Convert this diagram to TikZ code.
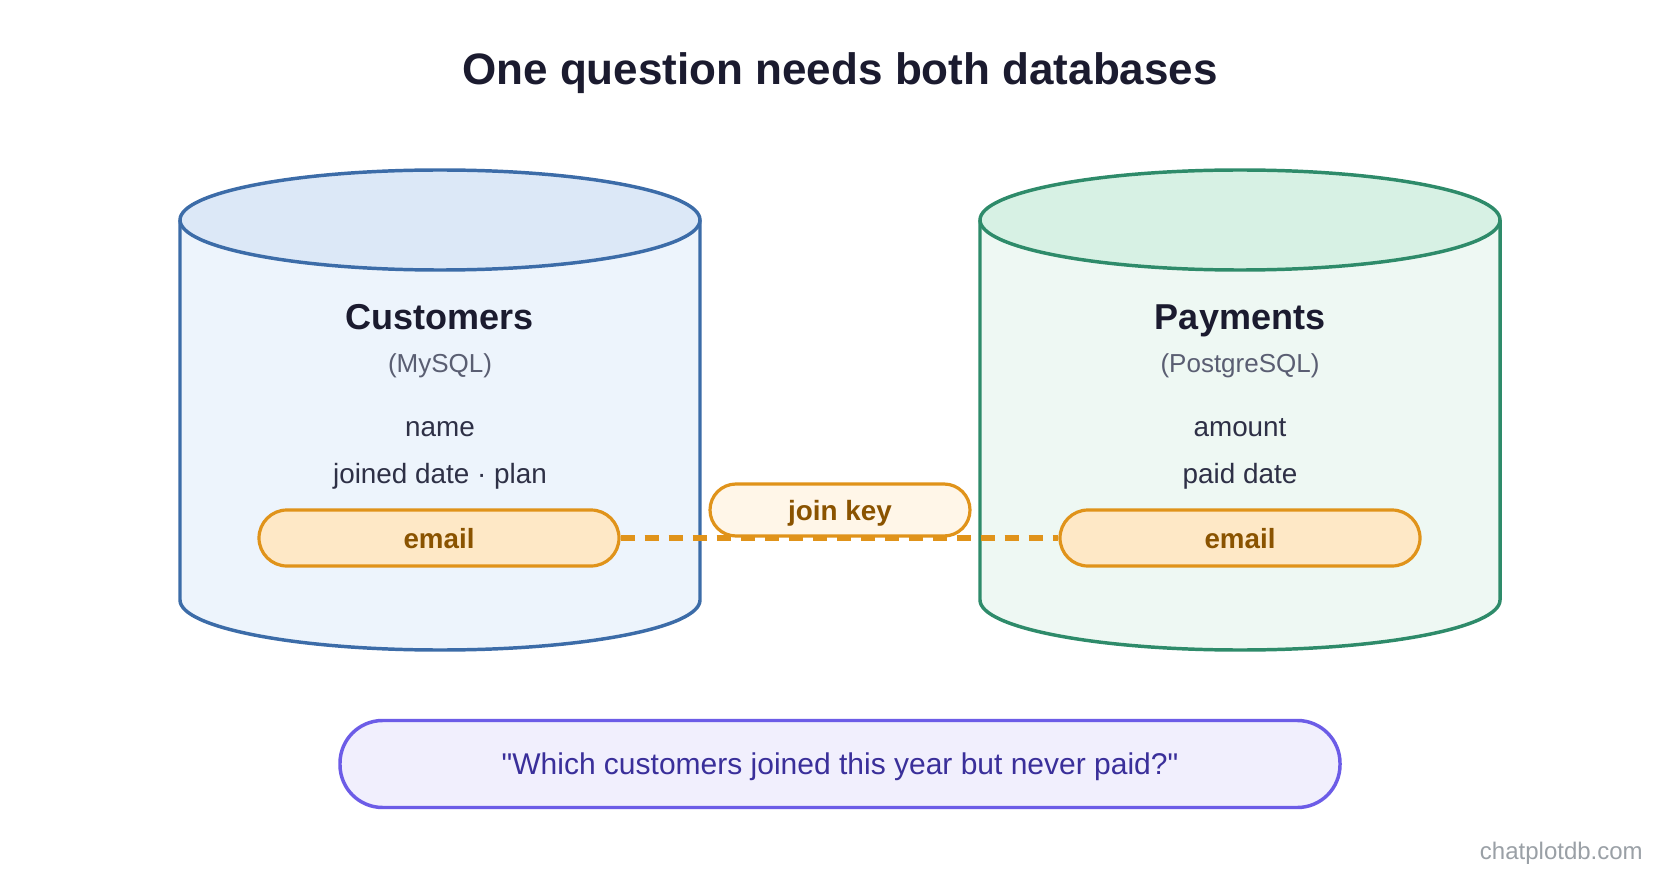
\documentclass[tikz,border=0pt]{standalone}
\usepackage{fontspec}
\setmainfont{Liberation Sans}
\definecolor{titlec}{HTML}{1B1B2F}
\definecolor{subc}{HTML}{5A5E72}
\definecolor{fieldc}{HTML}{2E3046}
\definecolor{blues}{HTML}{3C6CA8}
\definecolor{bluetop}{HTML}{DCE8F7}
\definecolor{bluebody}{HTML}{EDF4FC}
\definecolor{greens}{HTML}{2E8B6A}
\definecolor{greentop}{HTML}{D7F1E4}
\definecolor{greenbody}{HTML}{EEF8F3}
\definecolor{orangec}{HTML}{E0931A}
\definecolor{pillfill}{HTML}{FEE8C6}
\definecolor{pilltext}{HTML}{8A5300}
\definecolor{joinfill}{HTML}{FFF6E8}
\definecolor{qborder}{HTML}{6C5CE7}
\definecolor{qfill}{HTML}{F1EFFD}
\definecolor{qtext}{HTML}{3A2F9A}
\definecolor{wmark}{HTML}{9AA0A6}
\tikzset{
  dbline/.style={line width=2.6pt},
  heading/.style={anchor=base, font=\fontsize{27}{31}\selectfont\bfseries, text=titlec},
  subtitle/.style={anchor=base, font=\fontsize{19.5}{23}\selectfont, text=subc},
  field/.style={anchor=base, font=\fontsize{20.9}{24}\selectfont, text=fieldc},
  keypill/.style={draw=orangec, fill=pillfill, line width=2.4pt, rounded corners=21pt,
    minimum width=270pt, minimum height=42pt, inner sep=0pt, text depth=0pt,
    font=\fontsize{20.8}{24}\selectfont\bfseries, text=pilltext},
  joinpill/.style={draw=orangec, fill=joinfill, line width=2.4pt, rounded corners=19.5pt,
    minimum width=195pt, minimum height=39pt, inner sep=0pt, text depth=0pt,
    font=\fontsize{20.9}{24}\selectfont\bfseries, text=pilltext},
  joinline/.style={draw=orangec, line width=3.8pt, dash pattern=on 11pt off 7pt},
  question/.style={draw=qborder, fill=qfill, line width=2.6pt, rounded corners=32pt,
    minimum width=750pt, minimum height=65.25pt, inner sep=0pt, text depth=0pt,
    font=\fontsize{22.5}{26}\selectfont, text=qtext}
}
\begin{document}
\begin{tikzpicture}[x=0.75pt,y=-0.75pt]
\useasboundingbox[fill=white] (0,0) rectangle (1680,880);
% title
\node[font=\fontsize{33}{38}\selectfont\bfseries, text=titlec] (title) at (840,73) {One question needs both databases};
% left cylinder
\filldraw[dbline, draw=blues, fill=bluebody] (180,220) -- (180,600) arc[start angle=180, end angle=0, x radius=260, y radius=50] -- (700,220);
\filldraw[dbline, draw=blues, fill=bluetop] (440,220) ellipse[x radius=260, y radius=50];
% right cylinder
\filldraw[dbline, draw=greens, fill=greenbody] (980,220) -- (980,600) arc[start angle=180, end angle=0, x radius=260, y radius=50] -- (1500,220);
\filldraw[dbline, draw=greens, fill=greentop] (1240,220) ellipse[x radius=260, y radius=50];
% left texts
\node[heading] (custh) at (440,329.5) {Customers};
\node[subtitle] (custs) at (440,372.5) {(MySQL)};
\node[field] (custf1) at (440,436.5) {name};
\node[field] (custf2) at (440,483.5) {joined date · plan};
\node[keypill] (emailL) at (439,538) {email};
% right texts
\node[heading] (payh) at (1240,329.5) {Payments};
\node[subtitle] (pays) at (1240,372.5) {(PostgreSQL)};
\node[field] (payf1) at (1240,436.5) {amount};
\node[field] (payf2) at (1240,483.5) {paid date};
\node[keypill] (emailR) at (1240,538) {email};
% join key
\node[joinpill] (joinkey) at (840,510) {join key};
\draw[joinline] (emailL.east) -- (emailR.west);
% question
\node[question] (q) at (840,764) {\textquotedbl Which customers joined this year but never paid?\textquotedbl};
% watermark
\node[anchor=east, inner sep=0pt, font=\fontsize{18}{21}\selectfont, text=wmark] (wm) at (1643,853) {chatplotdb.com};
\end{tikzpicture}
\end{document}
